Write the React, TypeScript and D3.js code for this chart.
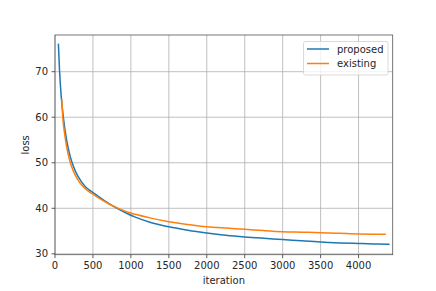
import React from "react";
import * as d3 from "d3";

const proposedIter = [45, 60, 80, 110, 150, 200, 250, 300, 350, 400, 450, 500, 575, 650, 750, 850, 950, 1050, 1250, 1500, 1750, 2000, 2250, 2500, 2750, 3000, 3250, 3500, 3750, 4000, 4200, 4400];
const proposedLoss = [76.0, 70.2, 65.0, 60.0, 55.3, 51.4, 48.9, 47.1, 45.8, 44.75, 44.05, 43.45, 42.55, 41.7, 40.65, 39.7, 38.85, 38.12, 36.95, 35.95, 35.2, 34.6, 34.1, 33.72, 33.42, 33.15, 32.85, 32.58, 32.4, 32.27, 32.17, 32.08];

const existingIter = [90, 100, 125, 150, 200, 250, 300, 350, 400, 500, 600, 700, 800, 900, 1000, 1250, 1500, 1750, 2000, 2250, 2500, 2750, 3000, 3250, 3500, 3750, 4000, 4200, 4350];
const existingLoss = [63.8, 60.5, 56.6, 53.8, 50.1, 47.9, 46.3, 45.15, 44.3, 43.1, 42.0, 41.05, 40.25, 39.55, 38.95, 37.9, 37.05, 36.45, 35.95, 35.65, 35.4, 35.1, 34.86, 34.75, 34.64, 34.5, 34.35, 34.3, 34.28];

const xTicks = [0, 500, 1000, 1500, 2000, 2500, 3000, 3500, 4000];
const yTicks = [30, 40, 50, 60, 70];
const seriesNames = ["proposed", "existing"];
const seriesColors = ["#1f77b4", "#ff7f0e"];

export default function App() {
  const W = 436, H = 291;
  const L = 55, R = 392.7, T = 35, B = 254.7;
  const x = d3.scaleLinear().domain([0, 4450]).range([L, R]);
  const y = d3.scaleLinear().domain([29.81, 78.06]).range([B, T]);
  const font = "'DejaVu Sans', sans-serif";
  const line = d3.line<[number, number]>().x(d => x(d[0])).y(d => y(d[1])).curve(d3.curveMonotoneX);
  const series = [
    proposedIter.map((v, i) => [v, proposedLoss[i]] as [number, number]),
    existingIter.map((v, i) => [v, existingLoss[i]] as [number, number]),
  ];
  return (
    <svg width={W} height={H} style={{ position: "absolute", left: 0, top: 0 }} fontFamily={font}>
      <rect width={W} height={H} fill="#fff" />
      <g>
        {xTicks.map(t => (
          <line key={"gx" + t} x1={x(t)} x2={x(t)} y1={T} y2={B} stroke="#b0b0b0" strokeWidth={0.8} />
        ))}
        {yTicks.map(t => (
          <line key={"gy" + t} x1={L} x2={R} y1={y(t)} y2={y(t)} stroke="#b0b0b0" strokeWidth={0.8} />
        ))}
      </g>
      <g fill="none" strokeWidth={1.5} strokeLinejoin="round" strokeLinecap="square">
        <path d={line(series[0]) || ""} stroke={seriesColors[0]} />
        <path d={line(series[1]) || ""} stroke={seriesColors[1]} />
      </g>
      <rect x={L} y={T} width={R - L} height={B - T} fill="none" stroke="#555" strokeWidth={0.8} />
      {xTicks.map(t => (
        <g key={"tx" + t}>
          <line x1={x(t)} x2={x(t)} y1={B} y2={B + 3.5} stroke="#333" strokeWidth={0.8} />
          <text x={x(t)} y={B + 14.5} fontSize={10} textAnchor="middle" fill="#262626">{t}</text>
        </g>
      ))}
      {yTicks.map(t => (
        <g key={"ty" + t}>
          <line x1={L - 3.5} x2={L} y1={y(t)} y2={y(t)} stroke="#333" strokeWidth={0.8} />
          <text x={L - 7} y={y(t) + 3.6} fontSize={10} textAnchor="end" fill="#262626">{t}</text>
        </g>
      ))}
      <text x={(L + R) / 2} y={284} fontSize={10} textAnchor="middle" fill="#262626">iteration</text>
      <text transform={`translate(29, ${(T + B) / 2}) rotate(-90)`} fontSize={10} textAnchor="middle" fill="#262626">loss</text>
      <g>
        <rect x={303.5} y={41.5} width={84.5} height={33.5} rx={2} fill="#fff" fillOpacity={0.8} stroke="#d0d0d0" strokeWidth={0.8} />
        {seriesNames.map((n, i) => (
          <g key={n}>
            <line x1={307} x2={329} y1={49 + i * 14.5} y2={49 + i * 14.5} stroke={seriesColors[i]} strokeWidth={1.5} />
            <text x={337} y={52.5 + i * 14.5} fontSize={10} fill="#262626">{n}</text>
          </g>
        ))}
      </g>
    </svg>
  );
}
